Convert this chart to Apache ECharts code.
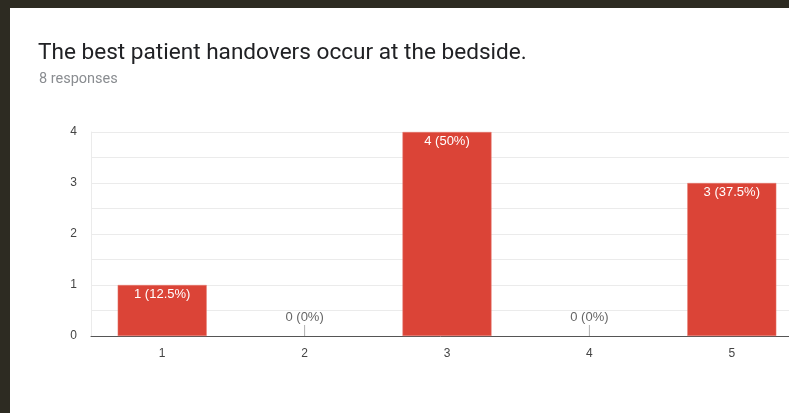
<!DOCTYPE html>
<html>
<head>
<meta charset="utf-8">
<style>
  html, body { margin: 0; padding: 0; background: #2d2b22; width: 789px; height: 413px; overflow: hidden; }
  #chart { position: absolute; left: 10px; top: 8px; width: 779px; height: 405px; background: #ffffff; }
</style>
<script src="https://cdn.jsdelivr.net/npm/echarts@6/dist/echarts.min.js"></script>
</head>
<body>
<div id="chart"></div>
<script>
const titleText = 'The best patient handovers occur at the bedside.';
const subtitleText = '8 responses';
const categories = ['1', '2', '3', '4', '5'];
const counts = [1, 0, 4, 0, 3];
const percents = ['12.5%', '0%', '50%', '0%', '37.5%'];

const chart = echarts.init(document.getElementById('chart'), null, { renderer: 'canvas' });
const titleFont = 'Roboto, "Noto Sans", Arial, sans-serif';
const font = '"Liberation Sans", Arial, sans-serif';

const barData = counts.map(v => v === 0 ? '-' : v);
const zeroData = counts.map(v => v === 0 ? 0 : '-');

chart.setOption({
  animation: false,
  backgroundColor: '#ffffff',
  title: [
    { text: titleText, left: 23, top: 29, textStyle: { fontFamily: titleFont, fontSize: 22.6, fontWeight: 'normal', color: '#202124' } },
    { text: subtitleText, left: 24, top: 59, textStyle: { fontFamily: titleFont, fontSize: 14.5, fontWeight: 'normal', color: '#8a8d91' } }
  ],
  grid: { left: 81, right: -14, top: 124, bottom: 77, containLabel: false, outerBoundsMode: 'none' },
  xAxis: [
    {
      type: 'category',
      data: categories,
      axisLine: { lineStyle: { color: '#555555', width: 1 } },
      axisTick: { show: false },
      axisLabel: { color: '#444444', fontFamily: font, fontSize: 12, margin: 12 }
    },
    {
      type: 'category',
      data: categories,
      show: false
    }
  ],
  yAxis: {
    type: 'value',
    min: 0, max: 4, interval: 0.5,
    axisLine: { show: true, lineStyle: { color: '#ebebeb' } },
    axisTick: { show: false },
    axisLabel: {
      color: '#444444', fontFamily: font, fontSize: 12, margin: 14,
      formatter: v => Number.isInteger(v) ? String(v) : ''
    },
    splitLine: { lineStyle: { color: '#ebebeb', width: 1 } }
  },
  series: [
    {
      type: 'bar',
      xAxisIndex: 0,
      data: barData,
      barWidth: 89,
      itemStyle: { color: '#db4437', borderColor: '#e77a70', borderWidth: 0.5 },
      label: {
        show: true, position: 'insideTop', distance: 3,
        color: '#ffffff', fontFamily: font, fontSize: 13,
        formatter: p => p.value + ' (' + percents[p.dataIndex] + ')'
      }
    },
    {
      type: 'bar',
      xAxisIndex: 1,
      data: zeroData,
      barWidth: 1,
      barMinHeight: 11,
      itemStyle: { color: '#b0b0b0' },
      label: {
        show: true, position: 'top', distance: 1,
        color: '#666666', fontFamily: font, fontSize: 13,
        formatter: p => p.value + ' (' + percents[p.dataIndex] + ')'
      }
    }
  ]
});
</script>
</body>
</html>
